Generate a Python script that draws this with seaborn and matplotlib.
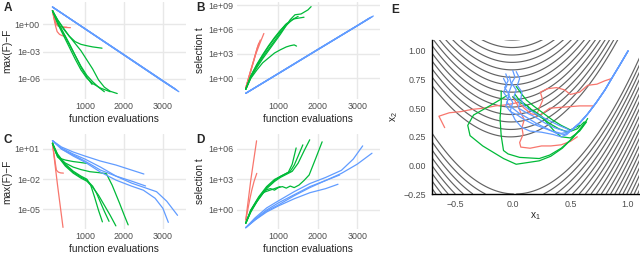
import numpy as np
import pandas as pd
import matplotlib
matplotlib.use('Agg')
import matplotlib.pyplot as plt
import seaborn as sns

# ---------------- data ----------------
# Panels A/C: log10(max(F)-F); panels B/D: log10(selection t)
# each run: ([function evaluations], [log10 value])

a_red = [
    ([170, 210, 250, 290, 350, 420, 500], [1.5, 0.6, -0.2, -0.8, -1.1, -1.25, -1.3]),
    ([170, 200, 240, 300, 400, 520, 630], [1.5, 0.9, 0.2, -0.15, -0.3, -0.35, -0.37]),
    ([170, 195, 230, 270, 330, 420, 540], [1.5, 1.1, 0.5, 0.0, -0.2, -0.3, -0.32]),
]
a_green = [
    ([170, 300, 450, 600, 750, 900, 1050, 1200, 1440], [1.5, 0.5, -0.5, -1.3, -1.9, -2.2, -2.35, -2.48, -2.62]),
    ([170, 300, 450, 600, 750, 900, 1050, 1185], [1.5, 0.3, -0.9, -2.1, -3.4, -4.7, -5.8, -6.6]),
    ([170, 300, 450, 600, 750, 900, 1050, 1200, 1350, 1500], [1.5, 0.2, -1.0, -2.2, -3.4, -4.6, -5.6, -6.3, -6.9, -7.4]),
    ([170, 300, 450, 600, 750, 900, 1050, 1200, 1350, 1500, 1650, 1830],
     [1.5, 0.5, -0.4, -1.3, -2.1, -2.9, -3.9, -4.9, -6.1, -6.9, -7.35, -7.6]),
    ([170, 300, 450, 600, 750, 900, 1050, 1200, 1400, 1650], [1.5, 0.1, -1.2, -2.5, -3.8, -5.0, -5.9, -6.5, -7.0, -7.4]),
]
a_blue = [
    ([170, 1000, 2000, 3000, 3300], [1.9, -0.47, -3.33, -6.2, -7.05]),
    ([170, 1000, 2000, 3000, 3350], [1.9, -0.48, -3.35, -6.22, -7.2]),
    ([170, 1000, 2000, 3000, 3380], [1.9, -0.5, -3.37, -6.25, -7.3]),
    ([170, 1000, 2000, 3000, 3410], [1.9, -0.48, -3.36, -6.24, -7.4]),
    ([170, 1000, 2000, 3000, 3330], [1.9, -0.46, -3.32, -6.19, -7.15]),
]

b_red = [
    ([170, 270, 360, 430, 500], [-1.2, 0.5, 2.0, 3.2, 4.3]),
    ([170, 300, 420, 530, 630], [-1.2, 0.9, 2.9, 4.3, 5.5]),
    ([170, 280, 380, 460, 540], [-1.2, 0.7, 2.3, 3.7, 4.7]),
]
b_green = [
    ([170, 300, 450, 600, 750, 900, 1050, 1200, 1300, 1400, 1460], [-1.36, 0.0, 1.0, 1.9, 2.5, 3.1, 3.5, 3.85, 4.0, 4.1, 3.95]),
    ([170, 300, 450, 600, 750, 900, 1050, 1185], [-1.36, 0.3, 1.7, 2.9, 4.0, 5.0, 5.9, 6.6]),
    ([170, 300, 450, 600, 750, 900, 1050, 1200, 1350, 1500], [-1.36, 0.2, 1.5, 2.6, 3.6, 4.6, 5.6, 6.5, 7.2, 7.6]),
    ([170, 300, 450, 600, 750, 900, 1050, 1200, 1300, 1420, 1575, 1750, 1830],
     [-1.36, 0.1, 1.3, 2.4, 3.4, 4.4, 5.4, 6.5, 7.2, 7.8, 7.9, 8.4, 8.8]),
    ([170, 300, 450, 600, 750, 900, 1050, 1200, 1400, 1650], [-1.36, 0.3, 1.6, 2.8, 3.9, 4.9, 5.8, 6.7, 7.3, 7.5]),
]
b_blue = [
    ([170, 1000, 2000, 3000, 3300], [-1.85, 0.6, 3.55, 6.45, 7.35]),
    ([170, 1000, 2000, 3000, 3350], [-1.85, 0.58, 3.52, 6.45, 7.5]),
    ([170, 1000, 2000, 3000, 3380], [-1.85, 0.56, 3.5, 6.43, 7.55]),
    ([170, 1000, 2000, 3000, 3410], [-1.85, 0.58, 3.52, 6.45, 7.65]),
    ([170, 1000, 2000, 3000, 3330], [-1.85, 0.6, 3.54, 6.47, 7.45]),
]

c_red = [
    ([170, 300, 440], [1.55, -2.6, -6.8]),
    ([170, 220, 270, 320, 380, 450], [1.55, 0.2, -1.1, -1.3, -1.38, -1.4]),
]
c_green = [
    ([170, 300, 500, 700, 900, 1050, 1150, 1250, 1350, 1450], [1.57, 0.5, -0.5, -1.2, -1.7, -2.0, -2.6, -3.8, -5.1, -6.25]),
    ([170, 300, 500, 700, 900, 1050, 1200, 1300, 1400, 1500, 1620], [1.57, 0.4, -0.6, -1.3, -1.8, -2.1, -2.7, -3.4, -4.3, -5.2, -6.2]),
    ([170, 300, 500, 700, 900, 1050, 1200, 1350, 1500, 1650, 1795], [1.57, 0.3, -0.7, -1.4, -1.9, -2.2, -2.8, -3.6, -4.6, -5.6, -6.65]),
    ([170, 300, 500, 700, 900, 1130, 1350, 1550, 1700, 1890, 2000, 2110],
     [1.57, 0.2, -0.4, -0.8, -1.05, -1.26, -1.35, -1.45, -2.6, -4.4, -5.5, -6.55]),
    ([170, 260, 360, 500, 700, 900, 1043], [1.57, 0.6, 0.07, -0.1, -0.25, -0.35, -0.43]),
]
c_blue = [
    ([170, 400, 700, 1000, 1400, 1800, 2200, 2513], [1.83, 1.2, 0.7, 0.3, -0.2, -0.6, -1.1, -1.49]),
    ([170, 400, 700, 1000, 1400, 1800, 2200, 2556], [1.83, 1.0, 0.4, -0.2, -1.1, -1.7, -2.2, -2.68]),
    ([170, 400, 700, 1000, 1400, 1800, 2200, 2500, 2800, 3000, 3140],
     [1.83, 1.0, 0.3, -0.3, -1.3, -2.1, -2.7, -3.1, -3.9, -4.9, -6.3]),
    ([170, 400, 700, 1000, 1400, 1800, 2200, 2500, 2838, 3100, 3376],
     [1.83, 1.1, 0.5, 0.0, -0.8, -1.7, -2.4, -2.8, -3.25, -4.2, -5.6]),
]

d_red = [
    ([170, 300, 445], [-1.0, 3.0, 6.8]),
    ([170, 220, 270, 320, 380, 450], [-1.0, 0.0, 1.0, 1.9, 2.8, 3.6]),
]
d_green = [
    ([170, 300, 500, 700, 900, 1050, 1150, 1250, 1350, 1450], [-1.3, 0.0, 1.2, 2.2, 2.9, 3.3, 3.5, 3.7, 4.5, 6.1]),
    ([170, 300, 500, 700, 900, 1050, 1200, 1300, 1400, 1500, 1620], [-1.3, 0.0, 1.3, 2.3, 3.0, 3.3, 3.6, 3.8, 4.4, 5.3, 6.4]),
    ([170, 300, 500, 700, 900, 1050, 1200, 1350, 1500, 1650, 1795], [-1.3, -0.1, 1.1, 2.1, 2.8, 3.2, 3.5, 3.8, 4.6, 5.8, 6.9]),
    ([170, 300, 450, 600, 700, 800, 900, 1000, 1100, 1200, 1300, 1400, 1523, 1650, 1780, 1950, 2110],
     [-1.3, -0.2, 0.8, 1.6, 2.0, 2.1, 1.95, 2.2, 2.3, 2.15, 2.35, 2.2, 2.45, 2.9, 3.44, 5.1, 6.7]),
    ([170, 300, 450, 600, 750, 900, 1043], [-1.3, -0.1, 0.9, 1.7, 1.9, 2.1, 2.3]),
]
d_blue = [
    ([170, 400, 700, 1000, 1400, 1800, 2200, 2513], [-1.74, -1.0, -0.2, 0.4, 1.1, 1.7, 2.1, 2.53]),
    ([170, 400, 700, 1000, 1400, 1800, 2200, 2556], [-1.74, -0.9, 0.0, 0.7, 1.5, 2.3, 2.9, 3.44]),
    ([170, 400, 700, 1000, 1400, 1800, 2200, 2600, 2900, 3140], [-1.74, -0.8, 0.2, 0.9, 1.8, 2.6, 3.2, 3.9, 5.0, 6.3]),
    ([170, 400, 700, 1000, 1400, 1800, 2200, 2600, 3000, 3376], [-1.74, -1.0, -0.1, 0.5, 1.4, 2.2, 2.9, 3.6, 4.5, 5.58]),
]

# Panel E: search paths in (x1, x2)
e_red = [
    ([-0.59, -0.64, -0.55, -0.45, -0.35, -0.25, -0.15, -0.05, 0.05, 0.1, 0.16, 0.24, 0.32, 0.45, 0.58, 0.7],
     [0.33, 0.43, 0.46, 0.47, 0.49, 0.5, 0.52, 0.53, 0.55, 0.5, 0.45, 0.44, 0.5, 0.51, 0.52, 0.52]),
    ([0.0, 0.04, 0.07, 0.1, 0.08, 0.09, 0.06, 0.07, 0.15, 0.25, 0.33, 0.42, 0.5, 0.56],
     [0.6, 0.53, 0.46, 0.4, 0.33, 0.27, 0.2, 0.16, 0.15, 0.17, 0.17, 0.18, 0.21, 0.25]),
    ([0.2, 0.23, 0.26, 0.24, 0.3, 0.38, 0.45, 0.5, 0.58, 0.65, 0.73, 0.8, 0.86],
     [0.42, 0.5, 0.57, 0.64, 0.67, 0.68, 0.66, 0.62, 0.64, 0.7, 0.71, 0.74, 0.76]),
]
e_green = [
    ([-0.1, -0.1, -0.11, -0.1, -0.08, -0.04, 0.06, 0.23, 0.32, 0.42, 0.5, 0.57, 0.63],
     [0.65, 0.55, 0.41, 0.26, 0.13, 0.1, 0.07, 0.06, 0.09, 0.15, 0.22, 0.3, 0.38]),
    ([-0.05, -0.2, -0.34, -0.39, -0.37, -0.26, -0.08, 0.03, 0.23, 0.33, 0.43, 0.52, 0.6, 0.65],
     [0.61, 0.52, 0.44, 0.35, 0.26, 0.17, 0.06, 0.01, 0.04, 0.08, 0.15, 0.24, 0.33, 0.41]),
    ([0.02, 0.05, 0.1, 0.15, 0.2, 0.26, 0.33, 0.4, 0.48, 0.56, 0.62],
     [0.62, 0.58, 0.54, 0.5, 0.45, 0.41, 0.36, 0.32, 0.29, 0.32, 0.38]),
    ([0.0, 0.06, 0.13, 0.14, 0.18, 0.25, 0.3, 0.36, 0.42, 0.5, 0.58, 0.64],
     [0.6, 0.55, 0.52, 0.49, 0.48, 0.43, 0.37, 0.3, 0.25, 0.24, 0.3, 0.38]),
    ([0.03, 0.08, 0.12, 0.18, 0.26, 0.34, 0.42, 0.5, 0.58],
     [0.69, 0.62, 0.57, 0.52, 0.46, 0.4, 0.35, 0.31, 0.35]),
]
valley_x = [0.5, 0.58, 0.65, 0.725, 0.8, 0.87, 0.93, 1.0]
valley_y = [0.3, 0.37, 0.45, 0.55, 0.66, 0.78, 0.88, 1.0]
e_blue = [
    ([-0.06, -0.04, -0.07, -0.03, -0.05, 0.0, 0.05, 0.12, 0.2, 0.3, 0.38, 0.45] + valley_x,
     [0.8, 0.74, 0.68, 0.62, 0.55, 0.5, 0.46, 0.42, 0.37, 0.32, 0.28, 0.27] + valley_y),
    ([0.0, 0.02, -0.01, 0.03, 0.01, 0.06, 0.05, 0.12, 0.2, 0.28, 0.36, 0.45] + valley_x,
     [0.83, 0.77, 0.72, 0.66, 0.6, 0.55, 0.5, 0.46, 0.42, 0.37, 0.33, 0.3] + valley_y),
    ([0.03, 0.06, 0.04, 0.08, 0.07, 0.1, 0.15, 0.22, 0.3, 0.4, 0.47] + valley_x,
     [0.82, 0.76, 0.7, 0.64, 0.58, 0.52, 0.48, 0.44, 0.4, 0.35, 0.32] + valley_y),
    ([-0.03, -0.01, -0.04, 0.0, -0.02, 0.02, 0.08, 0.15, 0.25, 0.35, 0.42, 0.47] + valley_x,
     [0.78, 0.7, 0.62, 0.55, 0.48, 0.4, 0.33, 0.3, 0.29, 0.27, 0.25, 0.27] + valley_y),
    ([-0.08, -0.05, -0.08, -0.04, -0.06, -0.02, 0.04, 0.1, 0.18, 0.26, 0.34, 0.42, 0.48] + valley_x,
     [0.76, 0.7, 0.64, 0.58, 0.52, 0.47, 0.44, 0.4, 0.36, 0.33, 0.3, 0.28, 0.29] + valley_y),
]

# contour levels of sqrt(Rosenbrock)
contour_levels = [2.69, 3.30, 3.93, 4.56, 5.20, 5.84, 6.48, 7.12, 7.77, 8.41, 9.06,
                  9.70, 10.35, 11.0, 11.64, 12.29, 12.94, 13.59, 14.24]

pal = {'red': '#F8766D', 'green': '#00BA38', 'blue': '#619CFF'}

# ---------------- figure ----------------
sns.set_theme(style='white')
plt.rcParams['font.family'] = ['Liberation Sans', 'DejaVu Sans']
plt.rcParams['mathtext.default'] = 'regular'

W, H = 640, 258
fig = plt.figure(figsize=(W / 100, H / 100), dpi=100)
fig.patch.set_facecolor('white')


def px_axes(l, t, r, b):
    return fig.add_axes([l / W, 1 - b / H, (r - l) / W, (b - t) / H])


def runs_df(red, green, blue):
    rows = []
    for m, runs in (('red', red), ('green', green), ('blue', blue)):
        for i, (xs, ys) in enumerate(runs):
            for k, (x, y) in enumerate(zip(xs, ys)):
                rows.append((m, f'{m}{i}', k, x, y))
    return pd.DataFrame(rows, columns=['method', 'run', 'step', 'x', 'y'])


def trace_panel(box, runs, ylim, yticks, ylabel, letter):
    ax = px_axes(*box)
    df = runs_df(*runs)
    sns.lineplot(data=df, x='x', y='y', hue='method', units='run', estimator=None,
                 sort=False, palette=pal, lw=0.9, legend=False, ax=ax)
    ax.set_xlim(-65, 3580)
    ax.set_ylim(*ylim)
    ax.set_xticks([1000, 2000, 3000])
    ax.set_yticks(yticks)
    ax.set_yticklabels([f'1e{t:+03d}' for t in yticks])
    ax.grid(True, color='#E8E8E8', lw=1.0)
    ax.set_axisbelow(True)
    for s in ax.spines.values():
        s.set_visible(False)
    ax.tick_params(length=0, pad=2.5, labelsize=6.4, labelcolor='#4D4D4D')
    ax.set_xlabel('function evaluations', fontsize=7.3, labelpad=1.5)
    ax.set_ylabel(ylabel, fontsize=7.3, labelpad=2)
    fig.text((box[0] - 40) / W, 1 - (box[1] + 0) / H, letter, fontsize=8.5,
             fontweight='bold', va='top', ha='left')
    return ax


trace_panel((43.3, 2, 185.5, 99), (a_red, a_green, a_blue), (-8.2, 2.45), [0, -3, -6], 'max(F)\u2212F', 'A')
trace_panel((236.5, 2, 380, 99), (b_red, b_green, b_blue), (-2.55, 9.37), [0, 3, 6, 9], 'selection t', 'B')
trace_panel((43.3, 134, 185.5, 229), (c_red, c_green, c_blue), (-6.96, 2.49), [1, -2, -5], 'max(F)\u2212F', 'C')
trace_panel((236.5, 134, 380, 229), (d_red, d_green, d_blue), (-1.87, 7.47), [0, 3, 6], 'selection t', 'D')

# ---------------- panel E ----------------
axe = px_axes(432, 40, 639, 194)
gx = np.linspace(-0.7, 1.1, 400)
gy = np.linspace(-0.25, 1.1, 400)
X, Y = np.meshgrid(gx, gy)
Z = np.sqrt((1 - X) ** 2 + 100 * (Y - X ** 2) ** 2)
axe.contour(X, Y, Z, levels=contour_levels, colors='#626262', linewidths=0.85)
dfe = runs_df(e_red, e_green, e_blue)
sns.lineplot(data=dfe, x='x', y='y', hue='method', units='run', estimator=None,
             sort=False, palette=pal, lw=0.9, legend=False, ax=axe)
axe.set_xlim(-0.7, 1.095)
axe.set_ylim(-0.25, 1.096)
axe.set_xticks([-0.5, 0.0, 0.5, 1.0])
axe.set_xticklabels(['\u22120.5', '0.0', '0.5', '1.0'])
axe.set_yticks([-0.25, 0.0, 0.25, 0.5, 0.75, 1.0])
axe.set_yticklabels(['\u22120.25', '0.00', '0.25', '0.50', '0.75', '1.00'])
for side in ('top', 'right'):
    axe.spines[side].set_visible(False)
for side in ('left', 'bottom'):
    axe.spines[side].set_color('black')
    axe.spines[side].set_linewidth(1.0)
axe.tick_params(length=3, width=0.8, color='#333333', pad=1.5, labelsize=6.4, labelcolor='#4D4D4D')
axe.set_xlabel('x$_1$', fontsize=7.3, labelpad=1)
axe.set_ylabel('x$_2$', fontsize=7.3, labelpad=2)
fig.text(391 / W, 1 - 4 / H, 'E', fontsize=8.5, fontweight='bold', va='top', ha='left')

fig.savefig('out.png', dpi=100, facecolor='white')
